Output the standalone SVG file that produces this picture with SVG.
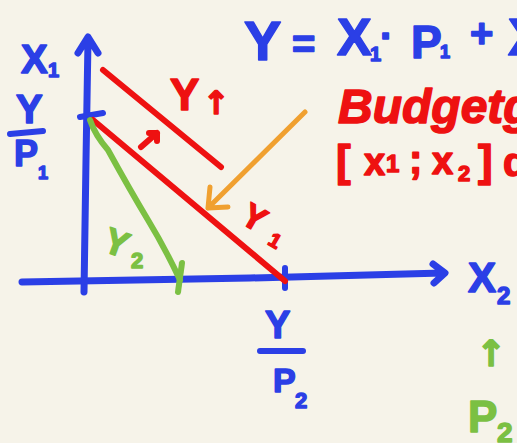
<svg xmlns="http://www.w3.org/2000/svg" width="517" height="443" viewBox="0 0 517 443">
<style>
.b{fill:#2b3fe6;stroke:#2b3fe6}
.r{fill:#ee1111;stroke:#ee1111}
.g{fill:#7bc043;stroke:#7bc043}
text{font-family:"Liberation Sans","DejaVu Sans",sans-serif;font-weight:bold;stroke-width:1.5;stroke-linejoin:round}
.ln{fill:none;stroke-linecap:round;stroke-linejoin:round}
.ar{font-family:"DejaVu Sans",sans-serif}
</style>
<rect width="517" height="443" fill="#f6f3e9"/>
<g id="connectors">
  <path id="y-axis" class="ln" d="M84 292 L86 160 L88 40 M78 53 L88 37 L98 53" stroke="#2b3fe6" stroke-width="7"/>
  <path id="x-axis" class="ln" d="M22 282 L250 278 L443 273 M433 264 L445 273 L434 283" stroke="#2b3fe6" stroke-width="7"/>
  <path id="tick-y" class="ln" d="M80 117 L103 113" stroke="#2b3fe6" stroke-width="6"/>
  <path id="tick-x" class="ln" d="M285 268 L285 288" stroke="#2b3fe6" stroke-width="6"/>
  <path id="budget-y1" class="ln" d="M93 120 L285 281" stroke="#ee1111" stroke-width="6"/>
  <path id="budget-yup" class="ln" d="M103 70 L221 167" stroke="#ee1111" stroke-width="6"/>
  <path id="shift-arrow" class="ln" d="M141 147 L157 133 M149 133 L157 133 L157 141" stroke="#ee1111" stroke-width="6"/>
  <path id="budget-y2" class="ln" d="M90 120 Q95 135 108 150 Q130 190 148 220 Q165 248 180 280" stroke="#7bc043" stroke-width="6"/>
  <path id="tick-green" class="ln" d="M182 263 L178 292" stroke="#7bc043" stroke-width="6"/>
  <path id="orange-arrow" class="ln" d="M305 112 L208 208 M210 187 L208 208 L228 207" stroke="#f0a030" stroke-width="5"/>
  <path id="frac-bar-1" class="ln" d="M10 134 L43 131" stroke="#2b3fe6" stroke-width="6"/>
  <path id="frac-bar-2" class="ln" d="M260 351 L303 351" stroke="#2b3fe6" stroke-width="6"/>
</g>
<g id="equation">
  <text class="b" x="244" y="60" font-size="56">Y</text>
  <text class="b" x="292" y="58" font-size="40">=</text>
  <text class="b" x="337" y="55" font-size="52">X</text>
  <text class="b" x="370" y="61" font-size="20">1</text>
  <text class="b" x="380" y="50" font-size="40">·</text>
  <text class="b" x="411" y="58" font-size="46">P</text>
  <text class="b" x="440" y="58" font-size="18">1</text>
  <text class="b" x="470" y="47" font-size="40">+</text>
  <text class="b" x="508" y="55" font-size="52">X</text>
</g>
<g id="budget-label">
  <text class="r" x="338" y="123" font-size="48" font-style="italic">Budgetgerade</text>
  <text class="r" x="336" y="176" font-size="44">[</text>
  <text class="r" x="364" y="175" font-size="38">x</text>
  <text class="r" x="386" y="172" font-size="24">1</text>
  <text class="r" x="409" y="173" font-size="40">;</text>
  <text class="r" x="432" y="174" font-size="38">x</text>
  <text class="r" x="458" y="181" font-size="22">2</text>
  <text class="r" x="478" y="176" font-size="44">]</text>
  <text class="r" x="503" y="176" font-size="40">de</text>
</g>
<g id="label-x1">
  <text class="b" x="21" y="73" font-size="40">X</text>
  <text class="b" x="48" y="77" font-size="20">1</text>
</g>
<g id="label-y-p1">
  <text class="b" x="16" y="123" font-size="40">Y</text>
  <text class="b" x="14" y="166" font-size="36">P</text>
  <text class="b" x="38" y="179" font-size="18">1</text>
</g>
<g id="label-yup">
  <text class="r" x="170" y="110" font-size="44">Y</text>
  <text class="r ar" x="203" y="114" font-size="32">↑</text>
</g>
<g id="label-y1">
  <text class="r" x="244" y="232" font-size="34" transform="rotate(30 260 217)">Y</text>
  <text class="r" x="271" y="248" font-size="20" transform="rotate(30 277 238)">1</text>
</g>
<g id="label-y2">
  <text class="g" x="106" y="256" font-size="36" transform="rotate(20 120 240)">Y</text>
  <text class="g" x="131" y="268" font-size="22">2</text>
</g>
<g id="label-x2">
  <text class="b" x="468" y="292" font-size="42">X</text>
  <text class="b" x="497" y="304" font-size="24">2</text>
</g>
<g id="label-y-p2">
  <text class="b" x="265" y="338" font-size="38">Y</text>
  <text class="b" x="273" y="392" font-size="34">P</text>
  <text class="b" x="295" y="408" font-size="22">2</text>
</g>
<g id="label-p2-up">
  <text class="g ar" x="476" y="366" font-size="36">↑</text>
  <text class="g" x="468" y="432" font-size="44">P</text>
  <text class="g" x="497" y="442" font-size="28">2</text>
</g>
</svg>
